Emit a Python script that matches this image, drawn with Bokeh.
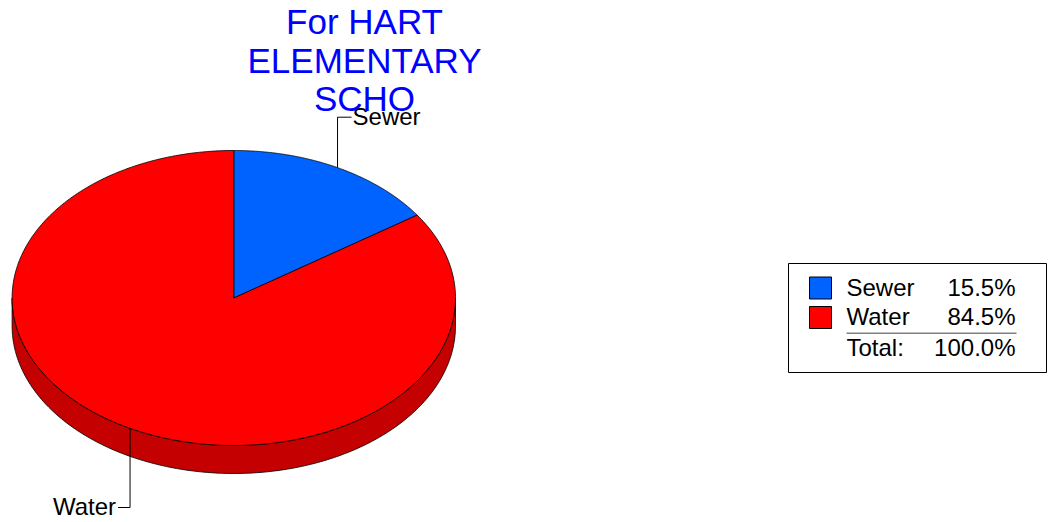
import numpy as np
from bokeh.plotting import figure
from bokeh.models import Range1d
from bokeh.core.properties import value
from bokeh.embed import file_html
from bokeh.resources import INLINE

# ---- data ----
categories = ["Sewer", "Water"]
shares = [15.5, 84.5]            # percent
top_colors = ["#0062FF", "#FF0000"]
side_colors = ["#0046B8", "#C40000"]
title_lines = ["For HART", "ELEMENTARY", "SCHO"]
total_label = "Total:"

FONT = value("Liberation Sans")
SHIFT = 0.39  # empirical baseline correction (em)
LBL = 24
TTL = 35

W, H = 1052, 522
p = figure(width=W, height=H, x_range=Range1d(0, W), y_range=Range1d(H, 0),
           output_backend="svg", toolbar_location=None,
           x_axis_location=None, y_axis_location=None, min_border=0)
p.grid.visible = False
p.outline_line_color = None
p.background_fill_color = "white"
p.border_fill_color = "white"


def txt(x, yb, s, size, align, color="black"):
    p.text(x=[x], y=[yb - SHIFT * size], text=[s], text_font=FONT,
           text_font_size=f"{size}px", text_color=color, text_align=align,
           text_baseline="alphabetic")


# pie geometry (screen-like coordinates, y downward)
cx, cy, rx, ry, depth = 233.3, 297.5, 221.7, 147.5, 28.0


def pt(theta_deg):
    t = np.radians(theta_deg)
    return cx + rx * np.sin(t), cy - ry * np.cos(t)


total = float(sum(shares))
starts, ends = [], []
acc = 0.0
for s in shares:
    starts.append(acc / total * 360.0)
    acc += s
    ends.append(acc / total * 360.0)

# side walls (visible front half: 90..270 deg clockwise from top)
for i in range(len(shares)):
    a0 = max(starts[i], 90.0)
    a1 = min(ends[i], 270.0)
    if a1 > a0:
        th = np.linspace(a0, a1, 200)
        xs, ys = pt(th)
        px = list(xs) + list(xs[::-1])
        py = list(ys) + list((ys + depth)[::-1])
        p.patch(px, py, fill_color=side_colors[i], line_color="black", line_width=0.8)

# top slices
for i in range(len(shares)):
    th = np.linspace(starts[i], ends[i], 300)
    xs, ys = pt(th)
    px = [cx] + list(xs) + [cx]
    py = [cy] + list(ys) + [cy]
    p.patch(px, py, fill_color=top_colors[i], line_color="black", line_width=0.8)

# leader lines and labels
label_y_top, label_y_bottom = 116.7, 507.0
for i, name in enumerate(categories):
    mid = (starts[i] + ends[i]) / 2.0
    x0, y0 = pt(mid)
    ly = label_y_top if np.cos(np.radians(mid)) > 0 else label_y_bottom
    right = np.sin(np.radians(mid)) > 0
    x1 = x0 + (14 if right else -12)
    p.line([x0, x0, x1], [y0, ly, ly], line_color="black", line_width=1)
    txt(x1 + (1 if right else -2), ly + 8.5, name, LBL, "left" if right else "right")

# title
title_baselines = [35, 73.5, 112]
for line, yb in zip(title_lines, title_baselines):
    txt(364, yb, line, TTL, "center", color="#0000FF")

# legend
p.quad(left=[788], right=[1046], top=[263], bottom=[372],
       fill_color="white", line_color="black", line_width=1)
row_tops = [276.5, 306.0]
for i, name in enumerate(categories):
    t = row_tops[i]
    p.quad(left=[809], right=[831], top=[t], bottom=[t + 22],
           fill_color=top_colors[i], line_color="black", line_width=1)
    pct = shares[i] / total * 100.0
    txt(846, t + 19.5, name, LBL, "left")
    txt(1015, t + 19.5, f"{pct:.1f}%", LBL, "right")
p.line([846, 1016], [332.7, 332.7], line_color="#808080", line_width=1.5)
txt(846, 356.5, total_label, LBL, "left")
txt(1015, 356.5, f"{sum(shares) / total * 100:.1f}%", LBL, "right")

open("out.html", "w").write(file_html(p, INLINE))
